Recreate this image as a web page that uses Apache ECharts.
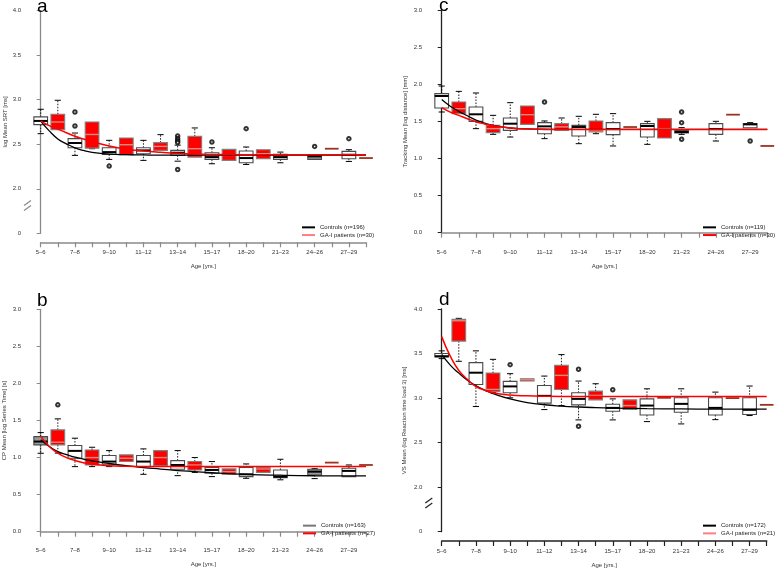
<!DOCTYPE html>
<html><head><meta charset="utf-8">
<script src="https://cdn.jsdelivr.net/npm/echarts@6/dist/echarts.min.js"></script>
<style>html,body{margin:0;padding:0;background:#fff}#c{width:777px;height:570px}</style>
</head><body><div id="c"></div>
<script>
// ---------- shared ----------
const ageLabels = ['5–6','7–8','9–10','11–12','13–14','15–17','18–20','21–23','24–26','27–29'];
const curveX = [0,0.5,1,1.5,2,2.5,3,4,5,6,7,8,9,10,12,14,16,19];

// ---------- panel a : log Mean SRT ----------  boxes: [min, q1, median, q3, max]
const aControls = [
  [2.619,2.720,2.762,2.807,2.893],[2.375,2.461,2.514,2.563,2.626],[2.330,2.386,2.412,2.461,2.544],
  [2.319,2.394,2.431,2.461,2.544],[2.310,2.375,2.405,2.431,2.490],[2.281,2.330,2.356,2.405,2.461],
  [2.273,2.292,2.345,2.424,2.469],[2.292,2.330,2.356,2.386,2.412],[2.330,2.330,2.364,2.382,2.382],
  [2.307,2.337,2.382,2.420,2.439]];
const aPatients = [
  [2.664,2.664,2.750,2.837,2.994],[2.450,2.457,2.610,2.750,2.750],[2.382,2.382,2.495,2.570,2.570],
  [2.431,2.431,2.476,2.518,2.608],[2.356,2.356,2.450,2.589,2.683],[2.319,2.319,2.375,2.443,2.443],
  [2.337,2.337,2.394,2.439,2.439],null,[2.450,2.450,2.450,2.450,2.450],[2.345,2.345,2.345,2.345,2.345]];
const aControlOut = [[1,2.863],[1,2.705],[2,2.255],[4,2.593],[4,2.563],[4,2.540],[4,2.520],[4,2.217],[5,2.525],[6,2.675],[8,2.476],[9,2.563]];
const aPatientOut = [];
const aCurveControls = [2.76,2.65,2.56,2.505,2.46,2.43,2.41,2.39,2.383,2.38,2.378,2.378,2.378,2.378,2.378,2.378,2.378,2.378];
const aCurvePatients = [2.76,2.71,2.67,2.63,2.59,2.56,2.53,2.48,2.445,2.425,2.41,2.398,2.39,2.386,2.383,2.383,2.383,2.383];

// ---------- panel c : Tracking Mean ----------
const cControls = [
  [1.631,1.685,1.847,1.879,1.982],[1.406,1.505,1.600,1.699,1.888],[1.293,1.383,1.473,1.550,1.757],
  [1.271,1.338,1.437,1.487,1.510],[1.203,1.307,1.428,1.451,1.573],[1.172,1.325,1.400,1.487,1.609],
  [1.194,1.293,1.442,1.474,1.505],[1.329,1.347,1.361,1.383,1.420],[1.239,1.329,1.400,1.474,1.505],
  [1.419,1.419,1.464,1.474,1.487]];
const cPatients = [
  [1.609,1.609,1.676,1.766,1.910],[1.329,1.352,1.406,1.451,1.586],[1.464,1.464,1.595,1.712,1.712],
  [1.383,1.383,1.430,1.474,1.550],[1.338,1.361,1.374,1.510,1.600],[1.428,1.428,1.428,1.428,1.428],
  [1.280,1.280,1.406,1.541,1.541],null,[1.595,1.595,1.595,1.595,1.595],[1.172,1.172,1.172,1.172,1.172]];
const cControlOut = [[3,1.766],[7,1.631],[7,1.487],[7,1.262],[9,1.239]];
const cPatientOut = [];
const cCurveControls = [1.80,1.71,1.64,1.58,1.52,1.48,1.45,1.415,1.402,1.398,1.397,1.397,1.397,1.397,1.397,1.397,1.397,1.397];
const cCurvePatients = [1.69,1.63,1.585,1.54,1.50,1.47,1.445,1.415,1.40,1.396,1.395,1.395,1.395,1.395,1.395,1.395,1.395,1.395];

// ---------- panel b : CP Mean ----------
const bControls = [
  [1.058,1.171,1.216,1.283,1.337],[0.878,0.991,1.090,1.162,1.261],[0.878,0.910,0.946,1.027,1.094],
  [0.774,0.878,0.946,1.027,1.117],[0.756,0.842,0.900,0.959,1.094],[0.743,0.788,0.833,0.865,0.946],
  [0.720,0.743,0.774,0.865,0.914],[0.700,0.730,0.743,0.833,0.977],[0.716,0.765,0.810,0.842,0.850],
  [0.743,0.743,0.820,0.856,0.900]];
const bPatients = [
  [1.060,1.171,1.207,1.374,1.522],[0.878,0.900,1.000,1.103,1.139],[0.946,0.946,0.991,1.036,1.036],
  [0.891,0.891,1.000,1.094,1.094],[0.800,0.833,0.900,0.946,1.000],[0.774,0.774,0.810,0.847,0.847],
  [0.800,0.800,0.846,0.865,0.865],null,[0.932,0.932,0.932,0.932,0.932],[0.900,0.900,0.900,0.900,0.900]];
const bControlOut = [];
const bPatientOut = [[0,1.711]];
const bCurveControls = [1.24,1.15,1.08,1.04,1.005,0.98,0.955,0.92,0.89,0.865,0.845,0.825,0.81,0.795,0.774,0.762,0.755,0.752];
const bCurvePatients = [1.29,1.15,1.06,1.00,0.96,0.93,0.91,0.89,0.882,0.879,0.878,0.878,0.878,0.878,0.878,0.878,0.878,0.878];

// ---------- panel d : VS Mean ----------
const dControls = [
  [3.443,3.462,3.470,3.500,3.530],[2.905,3.153,3.285,3.398,3.530],[3.003,3.059,3.131,3.187,3.274],
  [2.871,2.943,3.025,3.142,3.247],[2.755,2.924,2.991,3.059,3.191],[2.755,2.852,2.890,2.931,2.991],
  [2.736,2.810,2.916,2.991,3.104],[2.710,2.841,2.935,3.003,3.104],[2.758,2.810,2.890,3.003,3.067],
  [2.804,2.815,2.868,3.003,3.135]];
const dPatients = [
  [3.413,3.639,3.868,3.883,3.895],[3.060,3.074,3.097,3.281,3.435],[3.191,3.191,3.206,3.217,3.217],
  [2.916,3.097,3.255,3.368,3.488],[2.980,2.980,3.030,3.078,3.161],[2.871,2.871,2.916,2.980,2.980],
  [3.003,3.003,3.003,3.003,3.003],null,[3.000,3.000,3.000,3.000,3.000],[2.924,2.924,2.924,2.924,2.924]];
const dControlOut = [[2,3.375],[4,3.323],[4,2.683],[5,3.093]];
const dPatientOut = [];
const dCurveControls = [3.49,3.37,3.28,3.20,3.14,3.09,3.05,2.99,2.95,2.925,2.91,2.90,2.893,2.888,2.881,2.878,2.876,2.876];
const dCurvePatients = [3.69,3.47,3.31,3.21,3.13,3.09,3.06,3.035,3.025,3.02,3.018,3.018,3.018,3.018,3.018,3.018,3.018,3.018];

// grey-filled control boxes (style)
const aGreyFill = [8], bGreyFill = [0,8], cGreyFill = [7], dGreyFill = [];

const FONT = 'Liberation Sans, Arial, sans-serif';
const panels = [
  {grid:{left:40.7,top:10.7,width:325.3,height:222.6}, xOff:9, yOff:12.7, yMin:1.5, yMax:4.0, brk:1.8,
   yName:'log Mean SRT [ms]', yGap:19, ctrl:aControls, pat:aPatients, cOut:aControlOut, pOut:aPatientOut, grey:aGreyFill,
   cb:aCurveControls, cr:aCurvePatients, nC:'Controls (n=196)', nP:'GA-I patients (n=30)',
   leg:{left:302,top:223.5}, legCol:['#000','#ff7f7f'], axCol:['#8a8a8a','#8a8a8a'], title:{text:'a',left:37,top:-3}},
  {grid:{left:441.7,top:10.7,width:325.6,height:222}, xOff:10, yOff:12.7, yMin:0, yMax:3.0, brk:null,
   yName:'Tracking Mean [log distance] [mm]', yGap:21, ctrl:cControls, pat:cPatients, cOut:cControlOut, pOut:cPatientOut, grey:cGreyFill,
   cb:cCurveControls, cr:cCurvePatients, nC:'Controls (n=119)', nP:'GA-I patients (n=30)',
   leg:{left:703,top:223.5}, legCol:['#000','#ff0000'], axCol:['#8a8a8a','#222'], title:{text:'c',left:439,top:-4}},
  {grid:{left:40.7,top:309.3,width:325.3,height:222.4}, xOff:9, yOff:12.7, yMin:0, yMax:3.0, brk:null,
   yName:'CP Mean [log Series Time] [s]', yGap:21, ctrl:bControls, pat:bPatients, cOut:bControlOut, pOut:bPatientOut, grey:bGreyFill,
   cb:bCurveControls, cr:bCurvePatients, nC:'Controls (n=163)', nP:'GA-I patients (n=27)',
   leg:{left:303,top:521.8}, legCol:['#777','#ff0000'], axCol:['#8a8a8a','#8a8a8a'], title:{text:'b',left:37,top:291}},
  {grid:{left:441.7,top:309,width:325,height:222.7}, xOff:9.3, yOff:12.4, yMin:1.5, yMax:4.0, brk:1.81,
   yName:'VS Mean (log Reaction time load 3) [ms]', yGap:22, ctrl:dControls, pat:dPatients, cOut:dControlOut, pOut:dPatientOut, grey:dGreyFill,
   cb:dCurveControls, cr:dCurvePatients, nC:'Controls (n=172)', nP:'GA-I patients (n=21)',
   leg:{left:703,top:521.8}, legCol:['#000','#ff7f7f'], axCol:['#222','#222'], title:{text:'d',left:439,top:290}}
];

function boxRender(greyIdx, isPatient) {
  return function (params, api) {
    const x = api.value(0), g = api.value(6);
    const mn = api.value(1), q1 = api.value(2), md = api.value(3), q3 = api.value(4), mx = api.value(5);
    const cx = api.coord([x, md])[0];
    const y = v => api.coord([x, v])[1];
    const w = api.size([1, 0])[0] * 0.8, cap = w * 0.45;
    const kids = [];
    const wh = {stroke:'#000', lineWidth:0.9, lineDash:[1.5,1.5]};
    const cs = {stroke:'#000', lineWidth:1};
    if (mx > q3) {
      kids.push({type:'line', shape:{x1:cx,y1:y(q3),x2:cx,y2:y(mx)}, style:wh});
      kids.push({type:'line', shape:{x1:cx-cap/2,y1:y(mx),x2:cx+cap/2,y2:y(mx)}, style:cs});
    }
    if (mn < q1) {
      kids.push({type:'line', shape:{x1:cx,y1:y(q1),x2:cx,y2:y(mn)}, style:wh});
      kids.push({type:'line', shape:{x1:cx-cap/2,y1:y(mn),x2:cx+cap/2,y2:y(mn)}, style:cs});
    }
    if (q3 > q1) {
      kids.push({type:'rect', shape:{x:cx-w/2, y:y(q3), width:w, height:y(q1)-y(q3)},
        style:{fill: isPatient ? '#ff0000' : (greyIdx.indexOf(g) >= 0 ? '#9a9a9a' : '#fff'),
               stroke: isPatient ? '#808080' : '#4a4a4a', lineWidth:1.1}});
      kids.push({type:'line', shape:{x1:cx-w/2,y1:y(md),x2:cx+w/2,y2:y(md)},
        style:{stroke: isPatient ? '#d98c80' : '#000', lineWidth: isPatient ? 1.4 : 2}});
    } else {
      kids.push({type:'line', shape:{x1:cx-w/2,y1:y(md),x2:cx+w/2,y2:y(md)}, style:{stroke:'#9b3322', lineWidth:1.8}});
    }
    return {type:'group', children:kids};
  };
}

const option = {animation:false, backgroundColor:'#fff', textStyle:{fontFamily:FONT},
  grid:[], xAxis:[], yAxis:[], series:[], legend:[], title:[]};

panels.forEach((p, i) => {
  option.grid.push(p.grid);
  option.title.push({text:p.title.text, left:p.title.left, top:p.title.top, padding:0,
    textStyle:{fontSize:19, fontWeight:'normal', color:'#000', fontFamily:FONT}});
  option.xAxis.push({type:'value', gridIndex:i, min:0, max:19, interval:1, offset:p.xOff,
    name:'Age [yrs.]', nameLocation:'middle', nameGap:21, nameTextStyle:{fontSize:6, color:'#333', fontFamily:FONT},
    axisLine:{lineStyle:{color:p.axCol[0], width:1.5}}, axisTick:{length:5, lineStyle:{color:p.axCol[0], width:1.2}},
    axisLabel:{fontSize:6, color:'#333', margin:7, fontFamily:FONT, showMinLabel:true, showMaxLabel:true,
      formatter: v => (v % 2 === 0 ? ageLabels[v/2] : '')},
    splitLine:{show:false}});
  option.yAxis.push({type:'value', gridIndex:i, min:p.yMin, max:p.yMax, interval:0.5, offset:p.yOff,
    name:p.yName, nameLocation:'middle', nameRotate:90, nameGap:p.yGap, nameTextStyle:{fontSize:6, color:'#333', fontFamily:FONT},
    axisLine:{lineStyle:{color:p.axCol[1], width:1.3}}, axisTick:{length:4, lineStyle:{color:p.axCol[1], width:1}},
    axisLabel:{fontSize:6, color:'#333', margin:7, fontFamily:FONT,
      formatter: v => (p.yMin === 1.5 && v === 1.5 ? '0' : v.toFixed(1))},
    splitLine:{show:false}});

  const ctrlData = p.ctrl.map((b, g) => b ? [2*g, ...b, g] : null).filter(Boolean);
  const patData = p.pat.map((b, g) => b ? [2*g+1, ...b, g] : null).filter(Boolean);
  option.series.push({type:'custom', name:'box-c-'+i, xAxisIndex:i, yAxisIndex:i, z:2, clip:false,
    renderItem: boxRender(p.grey, false), data: ctrlData, encode:{x:0, y:[1,2,3,4,5]}});
  option.series.push({type:'custom', name:'box-p-'+i, xAxisIndex:i, yAxisIndex:i, z:2, clip:false,
    renderItem: boxRender(p.grey, true), data: patData, encode:{x:0, y:[1,2,3,4,5]}});
  option.series.push({type:'line', name:p.nC, xAxisIndex:i, yAxisIndex:i, z:3, smooth:0.5,
    showSymbol:false, color:'#000', lineStyle:{color:'#000', width:1.3},
    data: curveX.map((x, k) => [x, p.cb[k]])});
  option.series.push({type:'line', name:p.nP, xAxisIndex:i, yAxisIndex:i, z:4, smooth:0.5,
    showSymbol:false, color:'#ff0000', lineStyle:{color:'#ff0000', width:1.5},
    data: curveX.map((x, k) => [x, p.cr[k]])});
  option.series.push({type:'scatter', name:'out-'+i, xAxisIndex:i, yAxisIndex:i, z:5, symbol:'emptyCircle', symbolSize:3.5,
    itemStyle:{color:'#000', borderWidth:0.7},
    data: p.cOut.map(([g, v]) => [2*g, v]).concat(p.pOut.map(([g, v]) => [2*g+1, v]))});
  if (p.brk !== null) {
    const off = p.yOff;
    option.series.push({type:'custom', name:'brk-'+i, xAxisIndex:i, yAxisIndex:i, z:6, clip:false, silent:true,
      data:[[0, p.brk]],
      renderItem: (params, api) => {
        const pt = api.coord([api.value(0), api.value(1)]);
        const ax = pt[0] - off, yy = pt[1];
        const st = {stroke:p.axCol[1], lineWidth:1.2};
        return {type:'group', children:[
          {type:'rect', shape:{x:ax-3, y:yy-3, width:6, height:5}, style:{fill:'#fff'}},
          {type:'line', shape:{x1:ax-4, y1:yy-1, x2:ax+3, y2:yy-6}, style:st},
          {type:'line', shape:{x1:ax-4, y1:yy+4, x2:ax+3, y2:yy-1}, style:st}
        ]};
      }});
  }
  option.legend.push({left:p.leg.left, top:p.leg.top, orient:'vertical', padding:0, itemGap:0, icon:'rect',
    itemWidth:13, itemHeight:2, selectedMode:false,
    textStyle:{fontSize:6, color:'#222', lineHeight:7.7, fontFamily:FONT},
    data:[{name:p.nC, itemStyle:{color:p.legCol[0]}}, {name:p.nP, itemStyle:{color:p.legCol[1]}}]});
});

const chart = echarts.init(document.getElementById('c'), null, {renderer:'canvas'});
chart.setOption(option);
</script>
</body></html>
